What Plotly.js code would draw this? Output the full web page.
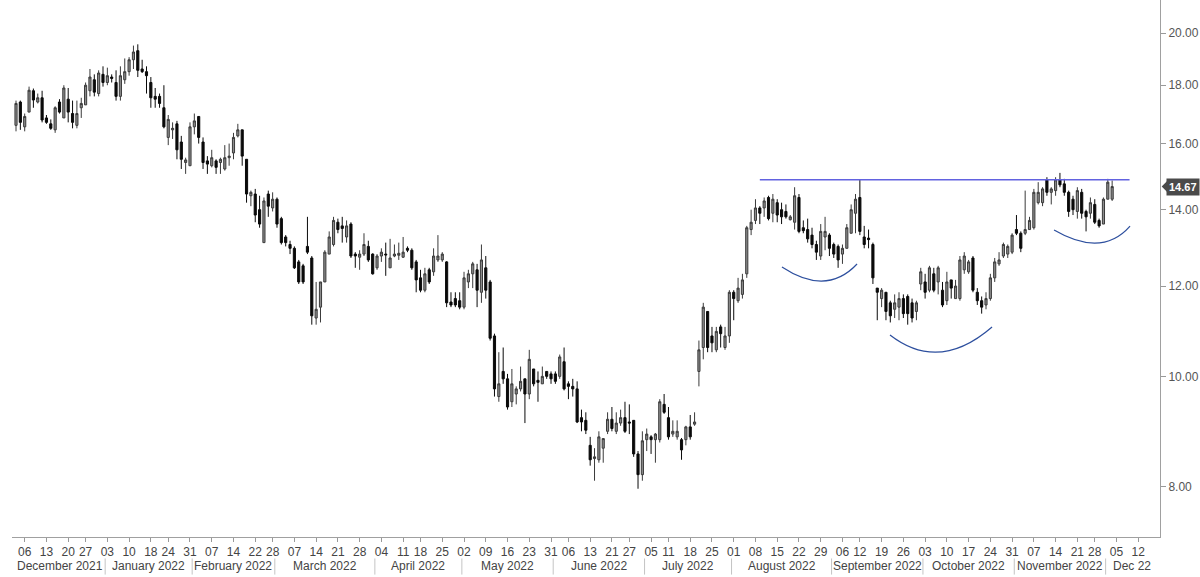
<!DOCTYPE html>
<html><head><meta charset="utf-8">
<script src="https://cdn.plot.ly/plotly-3.0.1.min.js"></script>
<style>html,body{margin:0;padding:0;background:#fff;} #chart{width:1200px;height:577px;}</style>
</head><body><div id="chart"></div>
<script>
// ---- calendar ----
const startDate = '2021-12-02';
const endAxisDate = '2022-12-16';
const holidays = ['2021-12-24','2022-01-17','2022-02-21','2022-04-15','2022-05-30','2022-06-20','2022-07-04','2022-09-05','2022-11-24'];
const monthLabels = ['December 2021','January 2022','February 2022','March 2022','April 2022','May 2022','June 2022','July 2022','August 2022','September 2022','October 2022','November 2022','Dec 22'];

// ---- daily OHLC ----
const openP = [16.6,17.4,16.55,17.05,17.8,17.4,17.55,16.85,16.65,16.45,17.4,16.85,17.5,17.0,16.6,17.2,17.3,17.8,18.2,17.7,
18.4,18.1,18.3,18.1,17.6,18.2,18.5,18.95,19.3,18.6,18.5,18.1,17.6,17.6,17.2,16.2,16.45,16.65,16.05,15.4,
15.3,16.55,16.9,16.05,15.45,15.3,15.45,15.4,15.2,15.55,15.7,16.25,16.45,15.5,14.4,14.45,14.0,13.1,14.45,14.05,
14.3,13.75,13.25,13.05,12.95,12.6,12.5,13.0,12.7,11.25,11.5,12.1,12.8,13.05,13.65,13.55,13.25,13.6,12.8,12.72,
12.8,13.0,12.8,12.45,12.75,12.8,12.45,12.75,12.77,12.72,12.95,12.9,12.6,12.2,11.9,12.4,12.35,12.65,12.65,12.6,
11.62,11.7,11.65,11.5,12.1,12.3,12.4,11.85,12.45,12.1,10.85,9.6,10.1,9.95,9.5,9.65,9.75,9.95,9.65,10.15,
9.92,9.85,10.1,10.05,10.05,10.0,10.3,9.85,9.8,9.75,9.2,9.15,8.7,8.47,8.45,8.65,8.95,9.17,8.95,9.1,
9.2,9.12,9.15,8.55,8.2,8.8,8.85,8.8,8.8,9.45,9.2,8.9,8.85,8.8,8.8,9.03,9.08,10.1,10.6,11.4,
10.85,10.55,11.05,10.6,10.85,11.85,11.65,11.8,12.3,13.45,13.7,14.05,14.05,14.35,13.9,14.2,14.0,13.95,13.72,13.65,
14.35,13.5,13.45,13.3,13.05,12.75,13.25,13.3,13.05,13.0,12.8,12.95,13.35,13.9,14.35,13.25,13.22,13.05,11.95,11.7,
11.85,11.6,11.45,11.5,11.7,11.75,11.6,11.4,12.05,12.1,11.9,12.3,12.1,11.9,11.65,12.15,11.7,11.7,12.4,12.35,
12.7,11.85,11.65,11.55,11.7,12.2,12.55,12.75,12.8,12.85,13.45,13.35,13.35,13.45,13.5,14.2,14.2,14.87,14.5,14.55,
14.87,14.75,14.5,14.3,13.95,14.5,13.95,13.9,14.15,13.7,13.6,14.3,14.3];
const highP = [17.45,17.45,17.0,17.95,17.88,17.7,17.8,16.95,16.8,17.25,17.5,18.0,17.9,17.45,17.45,17.55,18.1,18.6,18.4,18.55,
18.7,18.65,18.4,18.55,18.7,19.0,19.05,19.5,19.55,18.95,18.7,18.3,17.9,17.7,18.0,16.95,16.7,16.75,16.25,15.55,
16.7,17.0,16.9,16.2,15.6,15.8,15.5,15.55,15.95,16.0,16.35,16.65,16.45,15.5,14.55,14.6,14.4,14.35,14.55,14.5,
14.35,13.8,13.3,13.15,13.0,12.65,12.55,13.8,12.75,12.1,12.1,12.9,13.4,13.8,13.75,13.8,13.7,13.65,12.85,12.9,
13.35,13.15,12.82,12.8,12.95,13.1,13.2,13.05,13.1,13.25,13.0,12.95,12.65,12.4,12.45,12.45,12.95,13.3,12.85,12.62,
11.85,11.85,11.85,12.35,12.4,12.6,12.55,13.05,12.75,12.15,10.9,10.5,10.6,10.05,10.15,9.8,10.2,9.95,10.55,10.15,
10.1,10.2,10.1,10.1,10.1,10.45,10.6,9.9,9.95,9.9,9.35,9.3,8.85,8.65,8.95,8.82,9.3,9.4,9.3,9.35,
9.5,9.45,9.15,8.6,8.95,9.0,8.88,8.92,9.55,9.65,9.4,9.15,9.15,8.83,9.05,9.25,9.3,10.75,11.6,11.4,
11.05,11.05,11.1,11.05,11.9,11.9,12.2,12.3,13.55,14.0,14.3,14.1,14.35,14.4,14.45,14.3,14.2,14.15,13.85,14.65,
14.45,13.7,13.75,13.5,13.15,13.6,13.8,13.35,13.1,13.05,13.05,13.6,14.15,14.45,14.87,13.55,13.45,13.1,11.95,11.95,
11.85,11.65,11.8,11.85,11.8,11.8,11.7,11.65,12.45,12.3,12.5,12.45,12.5,12.1,12.35,12.15,12.15,12.75,12.85,12.65,
12.75,11.95,11.75,11.85,12.3,12.7,12.85,13.1,13.05,13.35,13.85,13.4,14.55,13.8,14.6,14.8,14.65,14.95,14.65,14.95,
15.08,14.9,14.55,14.4,14.65,14.6,14.0,14.35,14.3,13.75,14.35,14.9,14.85];
const lowP = [16.4,16.45,16.4,17.05,17.2,17.35,16.7,16.65,16.45,16.35,17.0,16.85,16.7,16.5,16.5,16.85,17.3,17.6,17.6,17.6,
17.95,18.0,18.1,17.45,17.45,18.05,18.35,18.6,18.3,18.45,17.7,17.2,17.2,17.2,16.5,15.95,16.15,15.5,15.2,15.05,
15.3,16.3,16.0,15.2,15.05,15.25,15.05,15.05,15.15,15.3,15.5,16.2,15.3,14.2,14.1,13.65,13.5,13.1,13.8,13.95,
13.5,13.05,13.0,12.8,12.42,12.05,12.05,12.8,11.1,11.1,11.15,12.1,12.8,13.0,13.35,13.1,13.1,12.7,12.45,12.4,
12.75,12.6,12.28,12.4,12.6,12.25,12.45,12.72,12.65,12.7,12.85,12.4,11.85,11.85,11.85,12.05,12.25,12.6,12.6,11.5,
11.5,11.5,11.45,11.45,11.95,11.95,11.5,11.6,11.7,10.75,9.6,9.5,9.85,9.35,9.4,9.45,9.7,9.1,9.55,9.8,
9.5,9.85,9.95,9.85,9.85,9.95,9.72,9.55,9.6,9.1,8.95,8.9,8.35,8.1,8.4,8.4,8.9,8.95,8.9,9.05,
8.92,8.9,8.5,7.97,8.1,8.6,8.55,8.4,8.75,9.27,8.8,8.85,8.8,8.45,8.7,8.8,9.05,9.8,10.35,10.5,
10.5,10.5,10.6,10.55,10.7,11.2,11.6,11.7,12.2,13.3,13.6,13.6,13.8,13.7,13.65,13.65,13.6,13.75,13.7,13.45,
13.35,13.35,13.1,12.95,12.65,12.65,12.9,12.75,12.7,12.45,12.55,12.95,13.35,13.35,13.3,12.95,12.95,12.05,11.2,11.5,
11.2,11.15,11.25,11.2,11.25,11.1,11.15,11.2,11.9,11.7,11.85,11.85,11.8,11.5,11.55,11.7,11.7,11.65,12.3,12.3,
11.85,11.55,11.35,11.45,11.65,12.1,12.5,12.7,12.7,12.8,13.3,12.85,13.3,13.45,13.45,14.15,14.1,14.4,14.15,14.4,
14.65,14.4,13.8,13.85,13.75,13.75,13.4,13.75,13.6,13.5,13.6,14.3,14.25];
const closeP = [17.35,16.7,16.9,17.82,17.47,17.55,16.78,16.7,16.5,17.2,17.05,17.9,17.05,16.7,17.0,17.35,18.0,18.3,17.75,18.45,
18.1,18.35,18.25,17.6,18.35,18.5,18.95,19.25,18.55,18.5,18.35,17.55,17.5,17.35,16.55,16.8,16.5,15.8,15.5,15.48,
16.55,16.75,16.2,15.4,15.35,15.55,15.25,15.5,15.55,15.6,16.2,16.45,15.6,14.45,14.5,13.85,13.6,14.25,14.1,14.3,
13.6,13.1,13.1,12.95,12.45,12.1,12.1,12.85,11.3,11.45,12.1,12.85,13.25,13.7,13.45,13.48,13.55,12.75,12.75,12.8,
13.05,12.65,12.3,12.75,12.85,12.78,12.7,12.8,12.82,12.85,12.9,12.45,12.15,11.9,12.3,12.1,12.75,12.75,12.8,11.6,
11.55,11.55,11.5,12.2,12.3,12.55,11.9,12.65,11.9,10.8,9.75,9.85,9.95,9.4,9.85,9.75,9.9,9.65,10.35,9.85,
9.88,10.0,10.0,9.95,9.9,10.4,9.75,9.8,9.75,9.12,9.12,8.97,8.45,8.5,8.85,8.82,9.17,9.0,9.1,9.2,
8.95,9.1,8.55,8.2,8.78,8.9,8.8,8.9,9.5,9.3,8.85,8.95,8.95,8.62,9.03,8.85,9.12,10.55,11.5,10.6,
10.7,10.95,10.9,10.85,11.85,11.7,11.95,12.15,13.5,13.65,14.05,13.9,14.25,13.75,14.3,13.85,13.8,13.8,13.8,14.4,
13.4,13.42,13.2,13.05,12.85,13.4,13.4,12.95,12.8,12.65,12.95,13.5,14.0,14.3,13.4,13.05,13.18,12.2,11.85,11.9,
11.4,11.3,11.6,11.7,11.35,11.35,11.25,11.6,12.35,11.85,12.45,11.9,12.45,11.55,12.1,11.95,12.0,12.65,12.75,12.6,
11.9,11.65,11.5,11.7,12.2,12.6,12.65,13.05,13.0,13.3,13.35,12.95,13.45,13.7,14.5,14.5,14.6,14.5,14.6,14.87,
14.72,14.5,13.95,14.0,14.55,13.9,13.8,14.2,13.65,13.55,14.3,14.8,14.67];

// ---- axis / annotation values ----
const yTickVals = [8, 10, 12, 14, 16, 18, 20];
const yTickText = ['8.00', '10.00', '12.00', '14.00', '16.00', '18.00', '20.00'];
const lastPrice = 14.67;
const resistanceLevel = 14.87;
const resistanceFrom = '2022-08-09';
const resistanceTo = '2022-12-08';

// build trading calendar
function iso(d){ return d.toISOString().slice(0,10); }
const allDates = [];
{
  const d = new Date(startDate + 'T00:00:00Z');
  const end = new Date(endAxisDate + 'T00:00:00Z');
  while (d <= end) {
    const wd = d.getUTCDay();
    const s = iso(d);
    if (wd !== 0 && wd !== 6 && holidays.indexOf(s) < 0) allDates.push(s);
    d.setUTCDate(d.getUTCDate() + 1);
  }
}
const dataDates = allDates.slice(0, closeP.length);

// weekly ticks: first trading day of each week
const tickVals = [], tickText = [];
for (let i = 1; i < allDates.length; i++) {
  const a = new Date(allDates[i-1] + 'T00:00:00Z'), b = new Date(allDates[i] + 'T00:00:00Z');
  if (b.getUTCDay() < a.getUTCDay() || (b - a) >= 7 * 864e5) {
    tickVals.push(allDates[i]);
    tickText.push(allDates[i].slice(8, 10));
  }
}

// month groups
const groups = [];
allDates.forEach((s, i) => {
  const key = s.slice(0, 7);
  if (!groups.length || groups[groups.length-1].key !== key) groups.push({key, start: i, end: i});
  else groups[groups.length-1].end = i;
});

const annotations = [];
const shapes = [];
groups.forEach((g, k) => {
  annotations.push({
    x: (g.start + g.end) / 2, xref: 'x', y: -0.054, yref: 'paper',
    text: monthLabels[k], showarrow: false, xanchor: 'center', yanchor: 'middle',
    font: {family: 'Arial, Liberation Sans, sans-serif', size: 12, color: '#444'}
  });
  if (k > 0) shapes.push({type: 'line', xref: 'x', yref: 'paper', x0: g.start - 0.5, x1: g.start - 0.5,
    y0: -0.040, y1: -0.070, line: {color: '#c4c4c4', width: 1}});
});

// last price tag
annotations.push({
  x: 1, xref: 'paper', xanchor: 'left', xshift: 6, y: Math.log10(lastPrice), yref: 'y', yanchor: 'middle',
  text: '<b>' + lastPrice.toFixed(2) + '</b>', showarrow: false, bgcolor: '#4a4a4a', borderpad: 2,
  font: {family: 'Arial, Liberation Sans, sans-serif', size: 11, color: '#ffffff'}
});
shapes.push({type: 'path', xref: 'paper', yref: 'paper', path: 'M 1.0015,0.6527 L 1.0075,0.6657 L 1.0075,0.6397 Z',
  fillcolor: '#4a4a4a', line: {width: 0}});

// hand-drawn arcs
const arcStyle = {color: '#2d4f9e', width: 1.2};
shapes.push({type: 'path', xref: 'paper', yref: 'paper', path: 'M 0.6707,0.5028 Q 0.7095,0.4479 0.7361,0.5084', line: arcStyle});
shapes.push({type: 'path', xref: 'paper', yref: 'paper', path: 'M 0.7648,0.3762 Q 0.8075,0.3054 0.8537,0.3911', line: arcStyle});
shapes.push({type: 'path', xref: 'paper', yref: 'paper', path: 'M 0.9077,0.5717 Q 0.9495,0.5196 0.9739,0.5791', line: arcStyle});

const traces = [
  {
    type: 'candlestick', x: dataDates, open: openP, high: highP, low: lowP, close: closeP,
    increasing: {line: {color: '#3a3a3a', width: 1}, fillcolor: '#8c8c8c'},
    decreasing: {line: {color: '#0a0a0a', width: 1}, fillcolor: '#0a0a0a'},
    whiskerwidth: 0, showlegend: false, hoverinfo: 'skip'
  },
  {
    type: 'scatter', mode: 'lines', x: [resistanceFrom, resistanceTo], y: [resistanceLevel, resistanceLevel],
    line: {color: '#6262e0', width: 1.5}, showlegend: false, hoverinfo: 'skip'
  }
];

const layout = {
  width: 1200, height: 577,
  margin: {l: 12, r: 40, t: 0, b: 40},
  paper_bgcolor: '#ffffff', plot_bgcolor: '#ffffff',
  showlegend: false,
  font: {family: 'Arial, Liberation Sans, sans-serif', size: 12, color: '#444'},
  xaxis: {
    type: 'category', categoryorder: 'array', categoryarray: allDates,
    range: [-0.92, 263.0], rangeslider: {visible: false},
    tickmode: 'array', tickvals: tickVals, ticktext: tickText, tickangle: 0,
    ticks: 'outside', ticklen: 4, tickcolor: '#999',
    showline: true, linecolor: '#a0a0a0', linewidth: 1,
    showgrid: false, zeroline: false,
    tickfont: {family: 'Arial, Liberation Sans, sans-serif', size: 12, color: '#444'}
  },
  yaxis: {
    type: 'log', side: 'right', range: [Math.log10(7.23), Math.log10(21.38)],
    tickmode: 'array', tickvals: yTickVals, ticktext: yTickText,
    ticks: 'outside', ticklen: 5, tickcolor: '#999',
    showline: true, linecolor: '#a0a0a0', linewidth: 1,
    showgrid: false, zeroline: false,
    tickfont: {family: 'Arial, Liberation Sans, sans-serif', size: 12, color: '#555'}
  },
  annotations: annotations,
  shapes: shapes
};

Plotly.newPlot('chart', traces, layout, {displayModeBar: false, staticPlot: true});
</script>
</body></html>
